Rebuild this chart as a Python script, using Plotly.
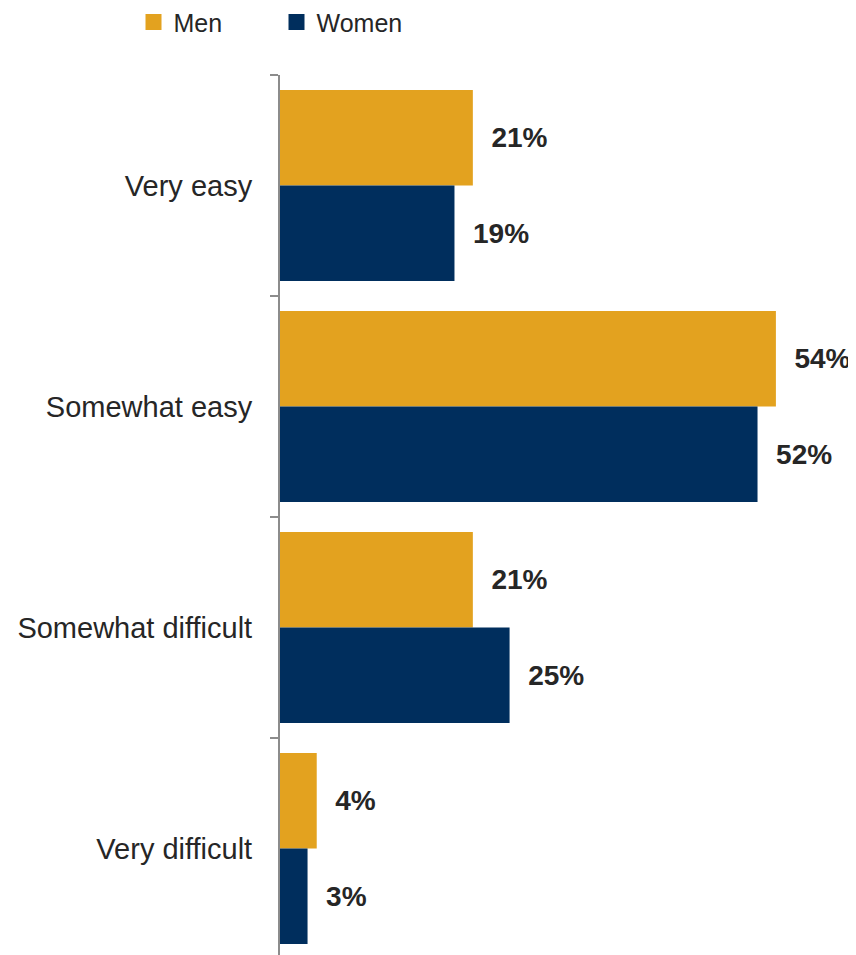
import plotly.graph_objects as go

categories = ["Very easy", "Somewhat easy", "Somewhat difficult", "Very difficult"]
men = [21, 54, 21, 4]
women = [19, 52, 25, 3]
series_names = ["Men", "Women"]
colors = ["#E3A21F", "#002E5D"]

FONT = "Arial, Liberation Sans, sans-serif"
pad = "\u00a0\u00a0"

fig = go.Figure()
for name, vals, col in zip(series_names, [men, women], colors):
    fig.add_trace(go.Bar(
        y=categories, x=vals, orientation="h", name=name,
        marker=dict(color=col, line=dict(width=0)),
        texttemplate=pad + "%{x}%", textposition="outside",
        textfont=dict(family=FONT, size=28, color="#262626", weight="bold"),
        cliponaxis=False, showlegend=False,
    ))
    fig.add_trace(go.Scatter(
        x=[None], y=[None], mode="markers", name=name,
        marker=dict(symbol="square", size=16, color=col),
        showlegend=True,
    ))

fig.update_layout(
    width=848, height=947,
    margin=dict(l=272, r=25, t=67, b=0, autoexpand=False),
    paper_bgcolor="white", plot_bgcolor="white",
    barmode="group", bargap=0.136, bargroupgap=0,
    font=dict(family=FONT, color="#262626"),
    legend=dict(orientation="h", xref="container", x=0.148, xanchor="left",
                yref="container", y=0.985, yanchor="middle",
                font=dict(family=FONT, size=25, color="#262626"),
                entrywidth=98, traceorder="normal"),
)
fig.update_xaxes(range=[0, 60], visible=False, automargin=False)
fig.update_yaxes(
    autorange=False, range=[3.482, -0.5], type="category", automargin=False,
    showline=True, linecolor="#8C8C8C", linewidth=2,
    ticks="outside", tickson="boundaries", ticklen=8, tickwidth=2, tickcolor="#8C8C8C",
    tickfont=dict(family=FONT, size=29, color="#262626"),
    ticklabelstandoff=20, showgrid=False, zeroline=False,
)
fig.write_html("out.html")
